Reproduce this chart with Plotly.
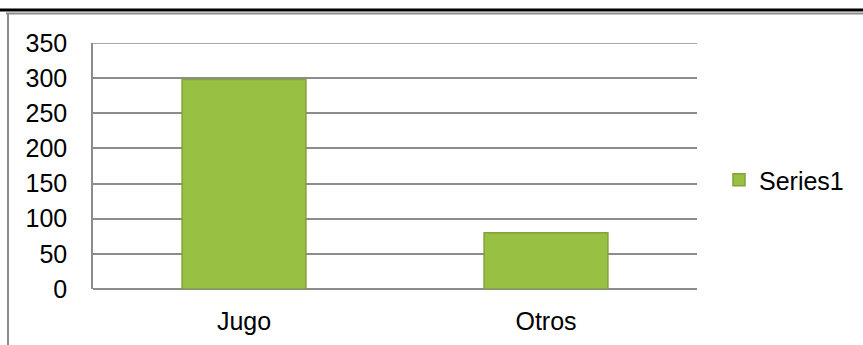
import plotly.graph_objects as go

# Data
categories = ["Jugo", "Otros"]
series_name = "Series1"
values = [298, 80]
y_ticks = [0, 50, 100, 150, 200, 250, 300, 350]

W, H = 863, 345
L, R, T, B = 93, 166, 43, 56
plot_w = W - L - R
plot_h = H - T - B


def px_x(px):
    return (px - L) / plot_w


def px_y(py):
    return (H - B - py) / plot_h


FONT = "Liberation Sans, Arial, sans-serif"
GREEN = "#98c043"
GREEN_EDGE = "#82a23a"
GRID = "#8c8c8c"

fig = go.Figure()
fig.add_trace(go.Bar(
    x=categories,
    y=values,
    name=series_name,
    marker=dict(color=GREEN, line=dict(color=GREEN_EDGE, width=1.5)),
    showlegend=True,
))

shapes = [
    # frame lines around the chart area
    dict(type="line", xref="paper", yref="paper",
         x0=px_x(0), x1=px_x(W), y0=px_y(10), y1=px_y(10),
         line=dict(color="black", width=3)),
    dict(type="line", xref="paper", yref="paper",
         x0=px_x(6), x1=px_x(W), y0=px_y(13.5), y1=px_y(13.5),
         line=dict(color=GRID, width=2)),
    dict(type="line", xref="paper", yref="paper",
         x0=px_x(8), x1=px_x(8), y0=px_y(13), y1=px_y(H),
         line=dict(color=GRID, width=2)),
    # gridline at the top of the value range
    dict(type="line", xref="paper", yref="y", layer="below",
         x0=0, x1=1, y0=y_ticks[-1], y1=y_ticks[-1],
         line=dict(color=GRID, width=1.5)),
]

fig.update_layout(
    width=W, height=H,
    margin=dict(l=L, r=R, t=T, b=B, autoexpand=False),
    paper_bgcolor="white", plot_bgcolor="white",
    font=dict(family=FONT, size=25, color="black"),
    bargap=0.59,
    shapes=shapes,
    showlegend=True,
    legend=dict(x=px_x(719), y=px_y(180), xanchor="left", yanchor="middle",
                font=dict(size=25), itemwidth=30, bgcolor="rgba(0,0,0,0)"),
    xaxis=dict(showgrid=False, showline=False, ticks="", ticklabelstandoff=15,
               automargin=False),
    yaxis=dict(range=[0, 350], tickvals=y_ticks, showgrid=True, gridcolor=GRID,
               gridwidth=1.5, showline=True, linecolor=GRID, linewidth=1.5,
               zeroline=True, zerolinecolor=GRID, zerolinewidth=1.5,
               ticks="", ticklabelstandoff=19, automargin=False),
)

fig.write_html("out.html")
